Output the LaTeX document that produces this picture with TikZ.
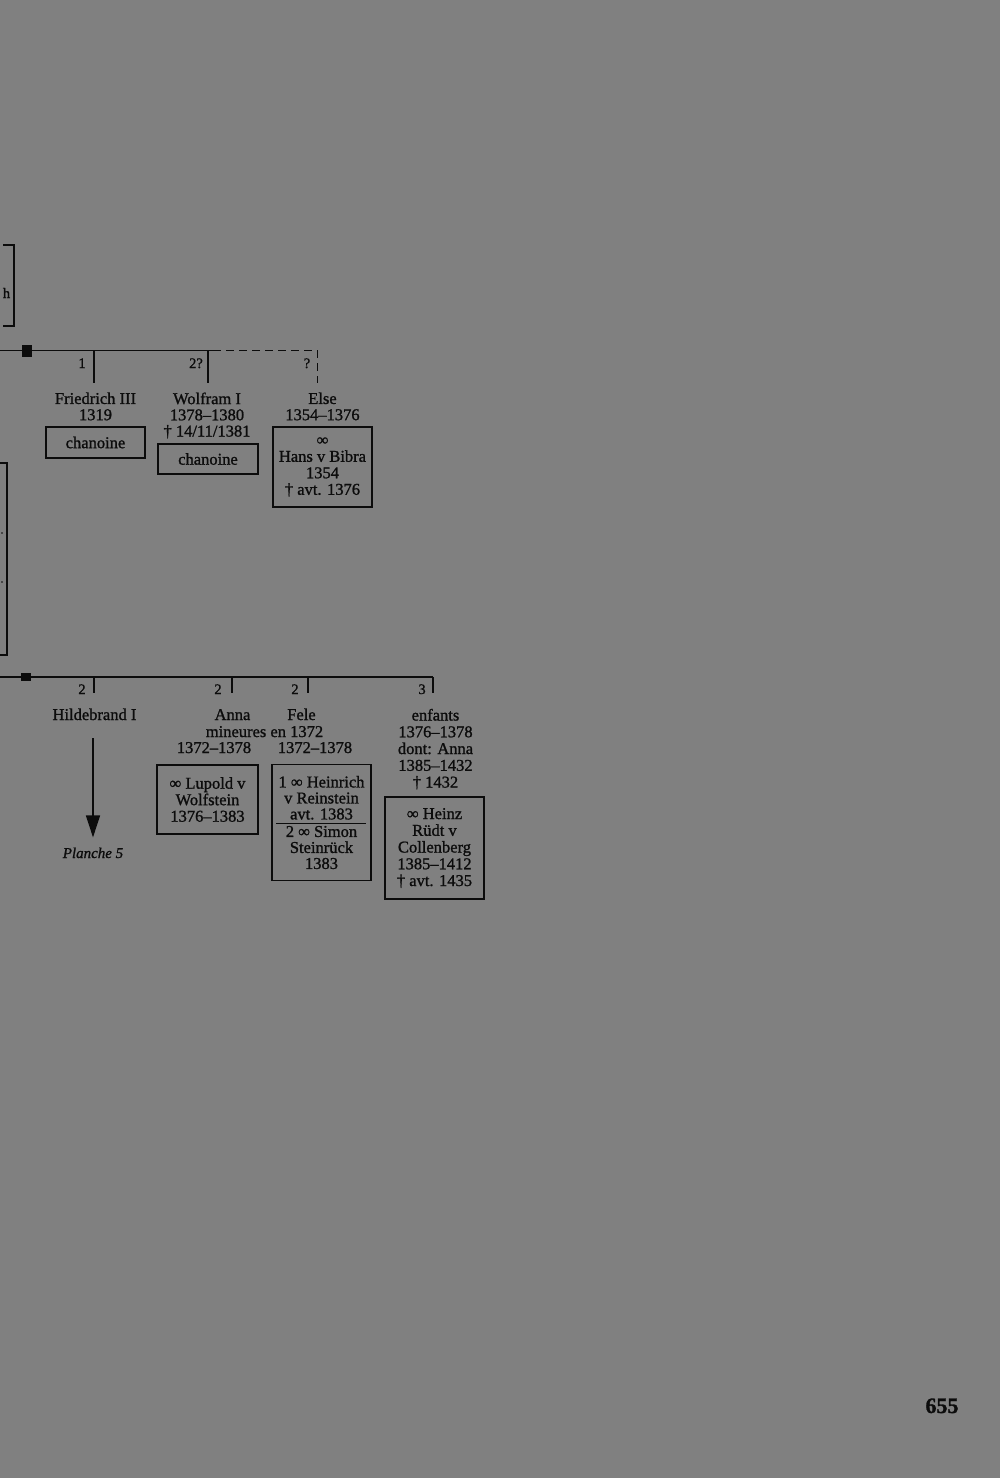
\documentclass[tikz,border=0pt]{standalone}
\usepackage{fontspec}
\setmainfont{Liberation Serif}[FakeBold=1.2]
\usetikzlibrary{arrows.meta,calc}
\definecolor{bg}{RGB}{128,128,128}
\definecolor{ink}{RGB}{12,12,12}
\begin{document}
\begin{tikzpicture}[x=1pt,y=-1pt,
  every node/.style={text=ink},
  txt/.style={inner sep=0pt, align=center, font=\fontsize{16.5}{16.5}\selectfont},
  toptxt/.style={inner sep=0pt, align=center, font=\fontsize{16.5}{16.2}\selectfont},
  one/.style={inner sep=0pt, anchor=base, font=\fontsize{16.5}{16.5}\selectfont},
  lbl/.style={inner sep=0pt, anchor=base, font=\fontsize{14.5}{14.5}\selectfont},
  famb/.style={draw=ink, line width=1.3pt, minimum width=100pt, inner sep=0pt, align=center},
  bus/.style={draw=ink, line width=1.8pt},
  tick/.style={draw=ink, line width=1.5pt},
  sq/.style={fill=ink, inner sep=0pt, minimum width=10pt},
]
\useasboundingbox (0,0) rectangle (1000,1478);
\fill[bg] (0,0) rectangle (1000,1478);

% left brackets (cut off)
\draw[ink, line width=1.4pt] (3,245) -- (14,245) -- (14,326) -- (3,326);
\node[lbl] (hh) at (6.5,298) {h};
\draw[ink, line width=1.4pt] (0,463) -- (7,463) -- (7,655) -- (0,655);
\fill[ink] (2,533) circle (0.8);
\fill[ink] (2,582) circle (0.8);

% ---------- first family line ----------
\coordinate (b1) at (0,350.5);
\coordinate (b1e) at (213,350.5);
\coordinate (b1d) at (317.5,350.5);
\coordinate (t11) at (94,383);
\coordinate (t12) at (208,383);
\coordinate (t13) at (317.5,383);
\draw[bus] (b1) -- (b1e);
\draw[ink, line width=1.4pt, dash pattern=on 8pt off 5pt] (b1e) -- (b1d) -- (t13);
\node[sq, minimum height=12pt] (sq1) at (27,350.5) {};
\draw[tick] (t11 |- b1) -- (t11);
\draw[tick] (t12 |- b1) -- (t12);

\node[lbl] (l11) at (82,368) {1};
\node[lbl] (l12) at (196,368) {2?};
\node[lbl] (l13) at (307,368) {?};

\node[toptxt, anchor=north] (fr) at (95.5,392.3) {Friedrich III\\1319};
\node[toptxt, anchor=north] (wo) at (207,392.3) {Wolfram I\\1378–1380\\† 14/11/1381};
\node[toptxt, anchor=north] (el) at (322.5,392.3) {Else\\1354–1376};

\node[famb, txt, minimum width=99pt, minimum height=31pt] (frb) at (95.5,442.5) {chanoine};
\node[famb, txt, minimum width=100pt, minimum height=30pt] (wob) at (208,459) {chanoine};
\node[famb, txt, minimum width=99pt, minimum height=80pt] (elb) at (322.5,467) {∞\\Hans v Bibra\\1354\\† avt. 1376};

% ---------- second family line ----------
\coordinate (b2) at (0,677);
\coordinate (b2e) at (433,677);
\coordinate (t21) at (94,693);
\coordinate (t22) at (232,693);
\coordinate (t23) at (308,693);
\coordinate (t24) at (433,693);
\draw[bus] (b2) -- (b2e);
\node[sq, minimum height=8pt] (sq2) at (26,677) {};
\draw[tick] (t21 |- b2) -- (t21);
\draw[tick] (t22 |- b2) -- (t22);
\draw[tick] (t23 |- b2) -- (t23);
\draw[tick] (t24 |- b2) -- (t24);

\node[lbl] (l21) at (82,694) {2};
\node[lbl] (l22) at (218,694) {2};
\node[lbl] (l23) at (295,694) {2};
\node[lbl] (l24) at (422,694) {3};

\node[one] (hil) at (94.5,720) {Hildebrand I};
\node[one] (an) at (232.5,720) {Anna};
\node[one] (fe) at (301.5,720) {Fele};
\node[one] (mi) at (264.5,737) {mineures en 1372};
\node[one] (and) at (214,753) {1372–1378};
\node[one] (fed) at (315,753) {1372–1378};
\node[inner sep=0pt, align=center, font=\fontsize{16.5}{16.75}\selectfont, anchor=north] (en) at (435.5,708.7)
  {enfants\\1376–1378\\dont: Anna\\1385–1432\\† 1432};

\node[famb, txt, minimum width=101pt, minimum height=69pt] (lub) at (207.5,799.5) {∞ Lupold v\\Wolfstein\\1376–1383};
\node[famb, inner sep=0pt, font=\fontsize{16.5}{16}\selectfont, minimum width=99pt, minimum height=116pt] (feb) at (321.5,822.5)
  {1 ∞ Heinrich\\v Reinstein\\avt. 1383\\[1.5pt]2 ∞ Simon\\Steinrück\\1383};
\draw[ink, line width=1.1pt] ([xshift=5pt,yshift=-1pt]feb.west) -- ([xshift=-6pt,yshift=-1pt]feb.east);
\node[famb, inner sep=0pt, font=\fontsize{16.5}{16.75}\selectfont, minimum width=99pt, minimum height=102pt] (heb) at (434.5,848)
  {∞ Heinz\\Rüdt v\\Collenberg\\1385–1412\\† avt. 1435};

% arrow to next plate
\node[inner sep=0pt, anchor=base, font=\fontsize{15}{15}\selectfont\itshape] (pl) at (93,858) {Planche 5};
\draw[ink, line width=1.5pt, -{Triangle[length=22pt,width=14pt]}, shorten <=18pt, shorten >=10pt]
  (pl |- hil.south) -- (pl.north);

% page number
\node[inner sep=0pt, anchor=base, font=\fontsize{22}{22}\selectfont\bfseries] (pg) at (942,1413) {655};
\end{tikzpicture}
\end{document}
